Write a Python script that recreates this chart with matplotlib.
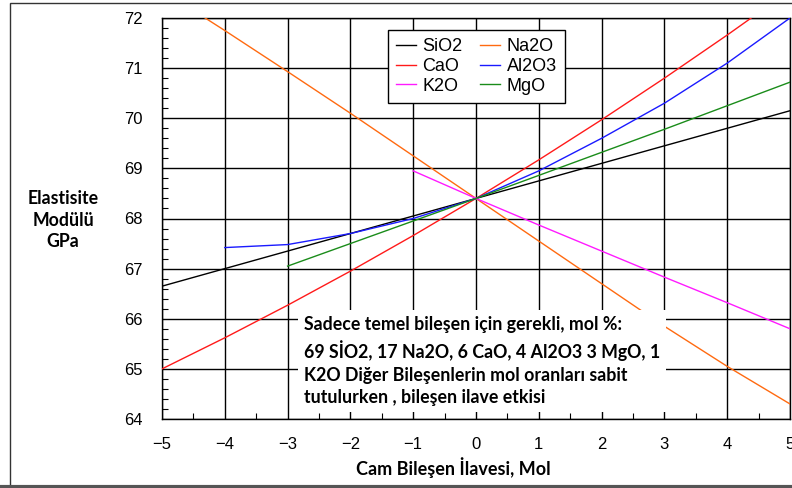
import matplotlib
matplotlib.use("Agg")
import matplotlib.pyplot as plt
from matplotlib.ticker import MultipleLocator
from matplotlib.patches import Rectangle
from matplotlib.lines import Line2D

x_sio2 = [-5, -4, -3, -2, -1, 0, 1, 2, 3, 4, 5]
y_sio2 = [66.65, 67.0, 67.35, 67.7, 68.05, 68.4, 68.75, 69.1, 69.45, 69.8, 70.15]
x_na2o = [-5, -4, -3, -2, -1, 0, 1, 2, 3, 4, 5]
y_na2o = [72.55, 71.75, 70.93, 70.1, 69.25, 68.4, 67.55, 66.7, 65.85, 65.05, 64.3]
x_cao = [-5, -4, -3, -2, -1, 0, 1, 2, 3, 4, 5]
y_cao = [65.0, 65.62, 66.27, 66.95, 67.66, 68.4, 69.17, 69.97, 70.8, 71.66, 72.55]
x_al2o3 = [-4, -3, -2, -1, 0, 1, 2, 3, 4, 5]
y_al2o3 = [67.42, 67.48, 67.7, 68.0, 68.4, 68.95, 69.6, 70.3, 71.1, 72.0]
x_k2o = [-1, 0, 1, 2, 3, 4, 5]
y_k2o = [68.95, 68.4, 67.87, 67.35, 66.83, 66.32, 65.8]
x_mgo = [-3, -2, -1, 0, 1, 2, 3, 4, 5]
y_mgo = [67.05, 67.5, 67.95, 68.4, 68.86, 69.32, 69.78, 70.25, 70.72]

x_ticks = [-5, -4, -3, -2, -1, 0, 1, 2, 3, 4, 5]
y_ticks = [64, 65, 66, 67, 68, 69, 70, 71, 72]

note = ("Sadece temel bileşen için gerekli, mol %:\n"
        "69 SİO2, 17 Na2O, 6 CaO, 4 Al2O3 3 MgO, 1\n"
        "K2O Diğer Bileşenlerin mol oranları sabit\n"
        "tutulurken , bileşen ilave etkisi")

fig = plt.figure(figsize=(7.92, 4.88), dpi=100)
ax = fig.add_axes([162/792, 1-419/488, (790-162)/792, (419-18)/488])

series = {
    "SiO2": (x_sio2, y_sio2, "#000000"),
    "Na2O": (x_na2o, y_na2o, "#ff6a10"),
    "CaO": (x_cao, y_cao, "#ff1a1a"),
    "Al2O3": (x_al2o3, y_al2o3, "#1a1aff"),
    "K2O": (x_k2o, y_k2o, "#ff1aff"),
    "MgO": (x_mgo, y_mgo, "#1a8c1a"),
}
handles = {}
for name, (xs, ys, c) in series.items():
    handles[name], = ax.plot(xs, ys, color=c, lw=1.0, label=name, zorder=3)

ax.set_xlim(-5, 5)
ax.set_ylim(64, 72)
ax.set_xticks(x_ticks)
ax.set_yticks(y_ticks)
ax.xaxis.set_minor_locator(MultipleLocator(0.5))
ax.yaxis.set_minor_locator(MultipleLocator(0.2))
ax.grid(True, which="major", color="black", lw=1.0, zorder=1)
ax.tick_params(which="major", direction="in", length=0, labelsize=12)
ax.tick_params(which="minor", direction="in", length=4, width=0.8)
ax.tick_params(axis="x", pad=13)
ax.tick_params(axis="y", pad=14)
for lab in ax.get_xticklabels() + ax.get_yticklabels():
    lab.set_family("Liberation Sans")
for s in ax.spines.values():
    s.set_linewidth(1.0)

order = ["SiO2", "CaO", "K2O", "Na2O", "Al2O3", "MgO"]
leg = ax.legend([handles[k] for k in order], order, ncol=2, loc="upper left",
                bbox_to_anchor=((388-162)/628, 1-(30-18)/401),
                frameon=True, fancybox=False, edgecolor="black", framealpha=1,
                prop={"family": "Liberation Sans", "size": 13},
                handlelength=1.1, handletextpad=0.35, columnspacing=1.0,
                labelspacing=0.15, borderpad=0.45, borderaxespad=0)
leg.get_frame().set_linewidth(1.0)
leg.set_zorder(5)

ax.text((304-162)/628, 1-(316-18)/401, note, transform=ax.transAxes,
        ha="left", va="top", fontsize=12.8, fontweight="bold", family="Lato",
        linespacing=1.4, zorder=6,
        bbox=dict(facecolor="white", edgecolor="none", pad=4))

fig.text(453/792, 1-468/488, "Cam Bileşen İlavesi, Mol", ha="center", va="center",
         fontsize=13, fontweight="bold", family="Lato")
fig.text(63/792, 1-220/488, "Elastisite\nModülü\nGPa", ha="center", va="center",
         fontsize=12.8, fontweight="bold", family="Lato", linespacing=1.3,
         multialignment="center")

fig.patches.append(Rectangle((10/792, 2/488), 1, 1-5/488, transform=fig.transFigure,
                             fill=False, edgecolor="#333333", lw=1.0))
fig.add_artist(Line2D([0, 1], [1.5/488, 1.5/488], transform=fig.transFigure,
                      color="#555555", lw=3))

fig.savefig("out.png", dpi=100)
